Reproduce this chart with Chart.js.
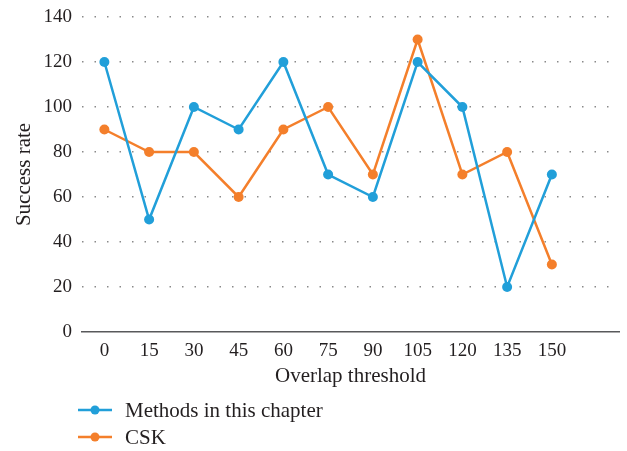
<!DOCTYPE html>
<html>
<head>
<meta charset="utf-8">
<script src="https://cdn.jsdelivr.net/npm/chart.js@4/dist/chart.umd.min.js"></script>
<style>
  html, body { margin: 0; padding: 0; background: #fff; }
  #wrap { width: 627px; height: 451px; position: relative; }
</style>
</head>
<body>
<div id="wrap"><canvas id="c" width="627" height="451"></canvas></div>
<script>
// Overlap thresholds (last slot left empty for spacing on the right)
const categories = ['0', '15', '30', '45', '60', '75', '90', '105', '120', '135', '150', ''];
const methodsValues = [120, 50, 100, 90, 120, 70, 60, 120, 100, 20, 70, null];
const cskValues = [90, 80, 80, 60, 90, 100, 70, 130, 70, 80, 30, null];
const seriesNames = ['Methods in this chapter', 'CSK'];
const yTicks = [0, 20, 40, 60, 80, 100, 120, 140];

const BLUE = '#219fd9';
const ORANGE = '#f47f2b';
const FONT = "'Liberation Serif', 'DejaVu Serif', serif";
const TEXT = '#231f20';

// Vertical legend below the axis: line + dot marker, then label
const bottomLegend = {
  id: 'bottomLegend',
  afterDraw(chart) {
    const ctx = chart.ctx;
    ctx.save();
    ctx.font = '21px ' + FONT;
    ctx.textBaseline = 'middle';
    ctx.textAlign = 'left';
    chart.data.datasets.forEach((ds, i) => {
      const y = 410 + i * 27;
      ctx.strokeStyle = ds.borderColor;
      ctx.lineWidth = 2.5;
      ctx.beginPath();
      ctx.moveTo(78, y);
      ctx.lineTo(112, y);
      ctx.stroke();
      ctx.fillStyle = ds.borderColor;
      ctx.beginPath();
      ctx.arc(95, y, 4.5, 0, Math.PI * 2);
      ctx.fill();
      ctx.fillStyle = TEXT;
      ctx.fillText(ds.label, 125, y + 1);
    });
    ctx.restore();
  }
};

new Chart(document.getElementById('c'), {
  type: 'line',
  data: {
    labels: categories,
    datasets: [
      {
        label: seriesNames[0],
        data: methodsValues,
        borderColor: BLUE,
        backgroundColor: BLUE,
        borderWidth: 2.5,
        pointRadius: 5,
        pointHoverRadius: 5,
        pointBackgroundColor: BLUE,
        pointBorderWidth: 0,
        tension: 0
      },
      {
        label: seriesNames[1],
        data: cskValues,
        borderColor: ORANGE,
        backgroundColor: ORANGE,
        borderWidth: 2.5,
        pointRadius: 5,
        pointHoverRadius: 5,
        pointBackgroundColor: ORANGE,
        pointBorderWidth: 0,
        tension: 0
      }
    ]
  },
  options: {
    responsive: false,
    animation: false,
    layout: { padding: { top: 17, right: 8, bottom: 62, left: 12 } },
    plugins: {
      legend: { display: false },
      tooltip: { enabled: false }
    },
    scales: {
      x: {
        offset: true,
        grid: { display: false, drawTicks: false },
        border: { display: true, color: '#58595b', width: 1.5 },
        ticks: { color: TEXT, font: { family: FONT, size: 19 }, padding: 8, maxRotation: 0, autoSkip: false },
        title: { display: true, text: 'Overlap threshold', color: TEXT, font: { family: FONT, size: 21 }, padding: { top: 0, bottom: 0 } },
        afterFit(scale) { scale.height = 57; }
      },
      y: {
        min: 0,
        max: 140,
        afterBuildTicks(scale) { scale.ticks = yTicks.map(v => ({ value: v })); },
        grid: {
          drawTicks: false,
          color: ctx => (ctx.tick && ctx.tick.value === 0 ? 'rgba(0,0,0,0)' : '#8a8a8a'),
          lineWidth: 1.5
        },
        border: { display: false, dash: [1.5, 11] },
        ticks: { color: TEXT, font: { family: FONT, size: 19 }, padding: 10 },
        title: { display: true, text: 'Success rate', color: TEXT, font: { family: FONT, size: 21 }, padding: { top: 0, bottom: 0 } },
        afterFit(scale) {
          scale.width = 70;
          scale.paddingTop = 0;
          scale.paddingBottom = 0;
        }
      }
    }
  },
  plugins: [bottomLegend]
});
</script>
</body>
</html>
